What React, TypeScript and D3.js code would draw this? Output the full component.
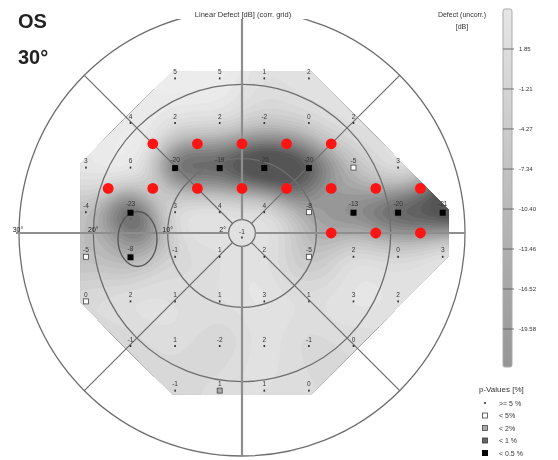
import React, { useMemo } from "react";
import * as d3 from "d3";

const WIDTH = 558;
const HEIGHT = 460;
const CX = 242;
const CY = 233;
const RADIUS = 223;
const FIELD_DEG = 30;

// Test grid: one entry per row (degrees above/below fixation)
const rowY = [21, 15, 9, 3, -3, -9, -15, -21];
const rowX = [
  [-9, -3, 3, 9],
  [-15, -9, -3, 3, 9, 15],
  [-21, -15, -9, -3, 3, 9, 15, 21],
  [-21, -15, -9, -3, 3, 9, 15, 21, 27],
  [-21, -15, -9, -3, 3, 9, 15, 21, 27],
  [-21, -15, -9, -3, 3, 9, 15, 21],
  [-15, -9, -3, 3, 9, 15],
  [-9, -3, 3, 9],
];
// Linear defect per location [dB]
const rowDefect = [
  [5, 5, 1, 2],
  [4, 2, 2, -2, 0, 2],
  [3, 6, -20, -19, -26, -20, -5, 3],
  [-4, -23, 3, 4, 4, -8, -13, -20, -21],
  [-5, -8, -1, 1, 2, -5, 2, 0, 3],
  [0, 2, 1, 1, 3, 1, 3, 2],
  [-1, 1, -2, 2, -1, 0],
  [-1, 1, 1, 0],
];
// p-value class: 0 >=5%, 1 <5%, 2 <2%, 3 <1%, 4 <0.5%
const rowPClass = [
  [0, 0, 0, 0],
  [0, 0, 0, 0, 0, 0],
  [0, 0, 4, 4, 4, 4, 1, 0],
  [0, 4, 0, 0, 0, 1, 4, 4, 4],
  [1, 4, 0, 0, 0, 1, 0, 0, 0],
  [1, 0, 0, 0, 0, 0, 0, 0],
  [0, 0, 0, 0, 0, 0],
  [0, 2, 0, 0],
];
const centerDefect = -1;

// Overlay markers on the 6° grid
const redRowY = [12, 6, 0];
const redRowX = [
  [-12, -6, 0, 6, 12],
  [-18, -12, -6, 0, 6, 12, 18, 24],
  [12, 18, 24],
];

const ringDeg = [30, 20, 10];
const ringLabels = ["30°", "20°", "10°"];
const centerRingDeg = 1.8;
const centerRingLabel = "2°";

const barTicks = [1.85, -1.21, -4.27, -7.34, -10.4, -13.46, -16.52, -19.58];
const barTickLabels = ["1.85", "-1.21", "-4.27", "-7.34", "-10.40", "-13.46", "-16.52", "-19.58"];

const pLabels = [">= 5 %", "< 5%", "< 2%", "< 1 %", "< 0.5 %"];

const FONT = "'Liberation Sans', Arial, sans-serif";

const degScale = d3.scaleLinear().domain([0, FIELD_DEG]).range([0, RADIUS]);
const toX = (d: number) => CX + degScale(d);
const toY = (d: number) => CY - degScale(d);

const fieldColor = d3
  .scaleLinear<string>()
  .domain([4, 0, -5, -10, -17])
  .range(["#ececec", "#dbdbdb", "#bdbdbd", "#939393", "#555555"])
  .clamp(true);

const barY = d3.scaleLinear().domain([barTicks[0], barTicks[barTicks.length - 1]]).range([49, 329]);
const BAR_TOP = 9;
const BAR_BOTTOM = 367;
const barColor = d3
  .scaleLinear<string>()
  .domain([barY.invert(BAR_TOP), barY.invert(BAR_BOTTOM)])
  .range(["#e6e6e6", "#959595"]);

type Pt = { px: number; py: number; v: number; p: number };

function buildPoints(): Pt[] {
  const pts: Pt[] = [];
  rowY.forEach((y, r) => {
    rowX[r].forEach((x, c) => {
      pts.push({ px: toX(x), py: toY(y), v: rowDefect[r][c], p: rowPClass[r][c] });
    });
  });
  return pts;
}

function buildField(pts: Pt[]) {
  const step = 2;
  const x0 = 60, y0 = 50, x1 = 480, y1 = 420;
  const nx = Math.round((x1 - x0) / step) + 1;
  const ny = Math.round((y1 - y0) / step) + 1;
  const vals = new Array<number>(nx * ny);
  // inverse-distance baseline for the margin outside the triangulation
  for (let j = 0; j < ny; j++) {
    for (let i = 0; i < nx; i++) {
      const gx = x0 + i * step, gy = y0 + j * step;
      let num = 0, den = 0;
      for (const p of pts) {
        const d2 = (p.px - gx) ** 2 + (p.py - gy) ** 2 + 1e-6;
        const w = 1 / (d2 * d2);
        num += w * p.v;
        den += w;
      }
      vals[j * nx + i] = num / den;
    }
  }
  // piecewise-linear interpolation inside the Delaunay triangles
  const del = d3.Delaunay.from(pts, (p) => p.px, (p) => p.py);
  const t = del.triangles;
  for (let k = 0; k < t.length; k += 3) {
    const a = pts[t[k]], b = pts[t[k + 1]], c = pts[t[k + 2]];
    const det = (b.py - c.py) * (a.px - c.px) + (c.px - b.px) * (a.py - c.py);
    if (Math.abs(det) < 1e-9) continue;
    const minX = Math.min(a.px, b.px, c.px), maxX = Math.max(a.px, b.px, c.px);
    const minY = Math.min(a.py, b.py, c.py), maxY = Math.max(a.py, b.py, c.py);
    const i0 = Math.max(0, Math.floor((minX - x0) / step)), i1 = Math.min(nx - 1, Math.ceil((maxX - x0) / step));
    const j0 = Math.max(0, Math.floor((minY - y0) / step)), j1 = Math.min(ny - 1, Math.ceil((maxY - y0) / step));
    for (let j = j0; j <= j1; j++) {
      for (let i = i0; i <= i1; i++) {
        const gx = x0 + i * step, gy = y0 + j * step;
        const l1 = ((b.py - c.py) * (gx - c.px) + (c.px - b.px) * (gy - c.py)) / det;
        const l2 = ((c.py - a.py) * (gx - c.px) + (a.px - c.px) * (gy - c.py)) / det;
        const l3 = 1 - l1 - l2;
        if (l1 >= -1e-6 && l2 >= -1e-6 && l3 >= -1e-6) {
          vals[j * nx + i] = l1 * a.v + l2 * b.v + l3 * c.v;
        }
      }
    }
  }
  // soften the surface
  d3.blur2({ data: vals, width: nx, height: ny }, 6);
  const thresholds = d3.range(-30, 7, 1);
  const contours = d3.contours().size([nx, ny]).thresholds(thresholds)(vals);
  const path = d3.geoPath(d3.geoIdentity().scale(step).translate([x0 - step / 2, y0 - step / 2]) as any);
  return contours.map((c) => ({ d: path(c as any) || "", value: c.value + 0.5 }));
}

function hullPath(pts: Pt[], pad: number) {
  const hull = d3.polygonHull(pts.map((p) => [p.px, p.py] as [number, number]))!;
  const [cx, cy] = d3.polygonCentroid(hull);
  const grown = hull.map(([x, y]) => {
    const dx = x - cx, dy = y - cy;
    const len = Math.hypot(dx, dy);
    return [x + (dx / len) * pad, y + (dy / len) * pad];
  });
  return "M" + grown.map((p) => p.join(",")).join("L") + "Z";
}

function PSymbol({ cls, x, y }: { cls: number; x: number; y: number }) {
  if (cls === 0) return <rect x={x - 0.8} y={y - 1} width={1.6} height={2} fill="#333" />;
  if (cls === 1) return <rect x={x - 2.5} y={y - 2.5} width={5} height={5} fill="white" stroke="#444" strokeWidth={0.8} />;
  if (cls === 2) return <rect x={x - 2.5} y={y - 2.5} width={5} height={5} fill="#aaa" stroke="#444" strokeWidth={0.8} />;
  if (cls === 3) return <rect x={x - 2.5} y={y - 2.5} width={5} height={5} fill="#666" stroke="#333" strokeWidth={0.8} />;
  return <rect x={x - 3} y={y - 3} width={6} height={6} fill="#000" />;
}

export default function App() {
  const points = useMemo(buildPoints, []);
  const bands = useMemo(() => buildField([...points, { px: CX, py: CY, v: centerDefect, p: 0 }]), [points]);
  const hull = useMemo(() => hullPath(points, 6), [points]);

  const diag = [45, 135, 225, 315].map((a) => {
    const r = (a * Math.PI) / 180;
    const r0 = degScale(centerRingDeg);
    return {
      x1: CX + Math.cos(r) * r0, y1: CY - Math.sin(r) * r0,
      x2: CX + Math.cos(r) * RADIUS, y2: CY - Math.sin(r) * RADIUS,
    };
  });

  return (
    <svg
      width={WIDTH}
      height={HEIGHT}
      style={{ position: "absolute", left: 0, top: 0, background: "white", willChange: "transform" }}
      fontFamily={FONT}
    >
      <defs>
        <clipPath id="hull-clip">
          <path d={hull} />
        </clipPath>
        <linearGradient id="bar-grad" x1="0" y1="0" x2="0" y2="1">
          {d3.range(0, 1.001, 0.1).map((f) => (
            <stop key={f} offset={f} stopColor={barColor(barY.invert(BAR_TOP + f * (BAR_BOTTOM - BAR_TOP)))} />
          ))}
        </linearGradient>
      </defs>
      <rect width={WIDTH} height={HEIGHT} fill="white" />

      {/* interpolated defect surface */}
      <g clipPath="url(#hull-clip)">
        {bands.map((b, i) => (
          <path key={i} d={b.d} fill={fieldColor(b.value)} />
        ))}
      </g>

      {/* polar grid */}
      <g fill="none" stroke="#6e6e6e" strokeWidth={1.3}>
        {ringDeg.map((d) => (
          <circle key={d} cx={CX} cy={CY} r={degScale(d)} />
        ))}
        <circle cx={CX} cy={CY} r={degScale(centerRingDeg)} />
        {diag.map((l, i) => (
          <line key={i} {...l} strokeWidth={1.2} />
        ))}
      </g>
      <g stroke="#8e8e8e" strokeWidth={2.2}>
        <line x1={CX - RADIUS - 3} y1={CY} x2={CX - degScale(centerRingDeg)} y2={CY} />
        <line x1={CX + degScale(centerRingDeg)} y1={CY} x2={CX + RADIUS} y2={CY} />
        <line x1={CX} y1={CY - RADIUS} x2={CX} y2={CY - degScale(centerRingDeg)} />
        <line x1={CX} y1={CY + degScale(centerRingDeg)} x2={CX} y2={CY + RADIUS} />
      </g>

      {/* blind spot outline */}
      <ellipse cx={137.5} cy={239} rx={19.5} ry={27.5} fill="none" stroke="#555" strokeWidth={1.3} />

      {/* ring labels */}
      <g fontSize={7} fill="#222" textAnchor="middle">
        {ringDeg.map((d, i) => (
          <text key={d} x={CX - degScale(d) - (i === 0 ? 1 : 0)} y={CY - 1}>
            {ringLabels[i]}
          </text>
        ))}
        <text x={CX - degScale(centerRingDeg) - 6} y={CY - 1}>{centerRingLabel}</text>
      </g>

      {/* values and significance symbols */}
      <g fontSize={6.5} fill="#333" textAnchor="middle">
        {points.map((p, i) => (
          <g key={i}>
            <text x={p.px} y={p.py - (p.p === 4 ? 4.5 : 3)}>{p.v}</text>
            <PSymbol cls={p.p} x={p.px} y={p.py + (p.p === 4 ? 2 : 1.5)} />
          </g>
        ))}
        <text x={CX} y={CY + 1}>{centerDefect}</text>
        <PSymbol cls={0} x={CX} y={CY + 4.5} />
      </g>

      {/* overlay markers */}
      <g fill="#ff1414">
        {redRowY.map((y, r) =>
          redRowX[r].map((x) => <circle key={`${r}-${x}`} cx={toX(x)} cy={toY(y)} r={5.4} />)
        )}
      </g>

      {/* title */}
      <rect x={176} y={8} width={134} height={11} fill="white" />
      <text x={243} y={17} fontSize={7.5} textAnchor="middle" fill="#333">
        Linear Defect [dB] (corr. grid)
      </text>
      <text x={18} y={28} fontSize={20} fontWeight="bold" fill="#222">OS</text>
      <text x={18} y={64} fontSize={20} fontWeight="bold" fill="#222">30°</text>

      {/* colour bar */}
      <text x={462} y={17} fontSize={7} textAnchor="middle" fill="#333">Defect (uncorr.)</text>
      <text x={462} y={29} fontSize={7} textAnchor="middle" fill="#333">[dB]</text>
      <rect x={503} y={BAR_TOP} width={9} height={BAR_BOTTOM - BAR_TOP} rx={2} fill="url(#bar-grad)" stroke="#aaa" strokeWidth={1} />
      <g fontSize={6} fill="#333">
        {barTicks.map((v, i) => (
          <g key={v}>
            <line x1={503} x2={514} y1={barY(v)} y2={barY(v)} stroke="#555" strokeWidth={0.8} />
            <text x={519} y={barY(v) + 2}>{barTickLabels[i]}</text>
          </g>
        ))}
      </g>

      {/* legend */}
      <text x={479} y={392} fontSize={8} fill="#333">p-Values [%]</text>
      <g fontSize={7} fill="#333">
        {pLabels.map((l, i) => (
          <g key={l}>
            <PSymbol cls={i} x={485} y={403 + i * 12.5} />
            <text x={499} y={405.5 + i * 12.5}>{l}</text>
          </g>
        ))}
      </g>
    </svg>
  );
}
